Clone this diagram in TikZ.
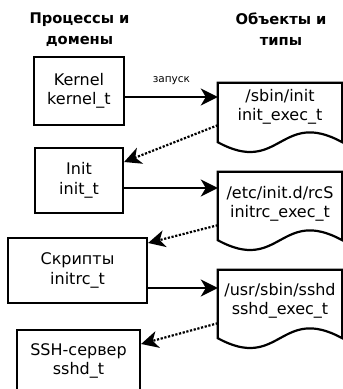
\documentclass[tikz,border=0pt]{standalone}
\usepackage{fontspec}
\setmainfont{DejaVu Sans}
\usetikzlibrary{positioning,calc,arrows.meta}
% document outline with a wavy bottom, #2 = extra depth below the node
\newcommand\docwave[2]{%
  \draw[docline] ($(#1.south west)+(0,#2)$) -- (#1.north west) -- (#1.north east) -- ($(#1.south east)+(0,#2)$)
    .. controls ($(#1.south)+(0,#2-34)$) and ($(#1.south)+(0,#2+34)$) .. ($(#1.south west)+(0,#2)$) -- cycle;}

\begin{document}
\begin{tikzpicture}[x=1pt, y=-1pt, header/.style={align=center, font=\fontsize{14.7}{21}\selectfont\bfseries}, procbox/.style={draw, line width=2.2pt, align=center, inner sep=0pt, font=\fontsize{16}{19.5}\selectfont}, docnode/.style={minimum width=124pt, inner sep=0pt, align=center, font=\fontsize{16}{19.5}\selectfont}, docline/.style={line width=2.2pt, line join=miter}, arrow/.style={-{Stealth[length=17pt,width=17pt,inset=5pt]}, line width=2.2pt}, spawn/.style={arrow, dash pattern=on 2.2pt off 1.6pt}, launch/.style={inner sep=0pt, font=\fontsize{10.5}{12}\selectfont}]
\useasboundingbox (0,0) rectangle (343,389);
\node[header] (hproc) at (79.5,29.5) {Процессы и\\домены};
\node[header] (hobj) at (281,29.5) {Объекты и\\типы};
\node[procbox, minimum width=90pt, minimum height=68pt] (kernel) at (79,91) {Kernel\\kernel\_t};
\node[procbox, minimum width=88pt, minimum height=65pt] (init) at (79,180.5) {Init\\init\_t};
\node[procbox, minimum width=139pt, minimum height=65pt] (scripts) at (77.5,270.5) {Скрипты\\initrc\_t};
\node[procbox, minimum width=123pt, minimum height=62pt] (sshd) at (78.5,361) {SSH-сервер\\sshd\_t};
\node[docnode, minimum height=48pt] (sbin) at (280,107) {/sbin/init\\init\_exec\_t};
\node[docnode, minimum height=64pt] (rcs) at (280,204) {/etc/init.d/rcS\\initrc\_exec\_t};
\node[docnode, minimum height=62pt] (sshdexec) at (280,301) {/usr/sbin/sshd\\sshd\_exec\_t};
\docwave{sbin}{11}
\docwave{rcs}{4}
\docwave{sshdexec}{6}
\draw[arrow] ([yshift=-6pt]kernel.east) coordinate (k1) -- (k1 -| sbin.west) node[launch, midway, above=11pt] (lbl) {запуск};
\draw[arrow] ([yshift=-7.5pt]init.east) coordinate (i1) -- (i1 -| rcs.west);
\draw[arrow] ([yshift=-17.5pt]scripts.east) coordinate (s1) -- (s1 -| sshdexec.west);
\draw[spawn] ([yshift=6pt]sbin.south west) -- ([yshift=18.5pt]init.east);
\draw[spawn] ([yshift=11pt]rcs.south west) -- ([yshift=27.5pt]scripts.east);
\draw[spawn] ([yshift=9pt]sshdexec.south west) -- ([yshift=17pt]sshd.east);
\end{tikzpicture}
\end{document}
